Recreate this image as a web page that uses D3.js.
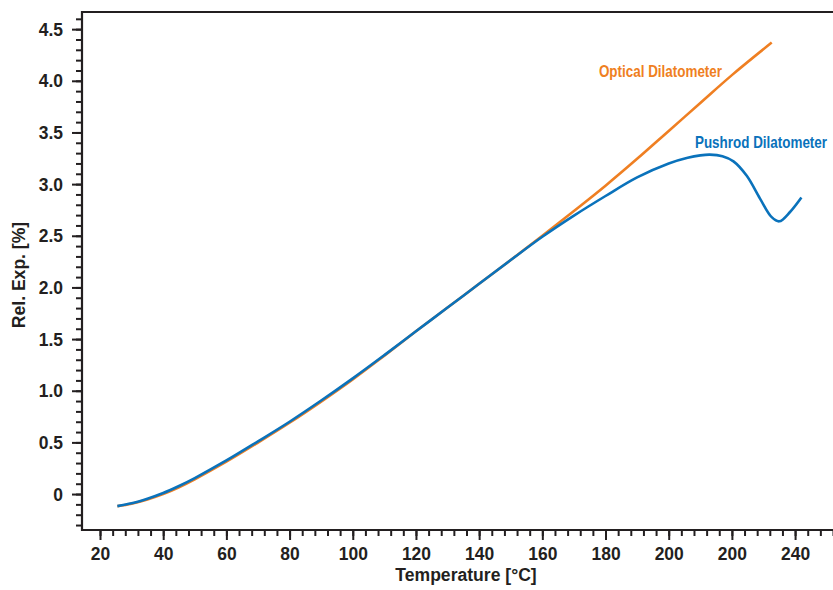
<!DOCTYPE html>
<html><head><meta charset="utf-8">
<script src="https://cdn.jsdelivr.net/npm/d3@7"></script>
<style>
body{margin:0;background:#fff;}
svg text{font-family:"Liberation Sans",Arial,Helvetica,sans-serif;font-weight:bold;}
</style></head><body>
<svg id="c" width="833" height="590"></svg>
<script>
// ---- data ----
const xMajorTicks = [20, 40, 60, 80, 100, 120, 140, 160, 180, 200, 220, 240];
const xTickLabels = ["20", "40", "60", "80", "100", "120", "140", "160", "180", "200", "200", "240"];
const yMajorTicks = [0, 0.5, 1.0, 1.5, 2.0, 2.5, 3.0, 3.5, 4.0, 4.5];
const yTickLabels = ["0", "0.5", "1.0", "1.5", "2.0", "2.5", "3.0", "3.5", "4.0", "4.5"];

const pushrodT = [25.5, 30, 35, 40, 45, 50, 60, 70, 80, 90, 100, 110, 120, 130, 140, 150, 160, 170, 180, 190, 200, 206, 210, 213, 217, 220.5, 224.7, 228.9, 232.6, 235, 238.4, 242];
const pushrodV = [-0.117, -0.09, -0.045, 0.01, 0.078, 0.155, 0.325, 0.51, 0.70, 0.905, 1.12, 1.345, 1.575, 1.805, 2.035, 2.265, 2.49, 2.695, 2.885, 3.065, 3.20, 3.255, 3.278, 3.285, 3.27, 3.22, 3.08, 2.86, 2.68, 2.64, 2.73, 2.87];

const opticalT = [25.5, 30, 35, 40, 45, 50, 60, 70, 80, 90, 100, 110, 120, 130, 140, 150, 160, 170, 180, 190, 200, 210, 220, 232.6];
const opticalV = [-0.117, -0.093, -0.052, 0.0, 0.066, 0.143, 0.313, 0.498, 0.69, 0.895, 1.11, 1.34, 1.575, 1.805, 2.035, 2.265, 2.50, 2.74, 2.985, 3.245, 3.515, 3.785, 4.055, 4.37];

const seriesNames = ["Optical Dilatometer", "Pushrod Dilatometer"];
const xTitle = "Temperature [°C]";
const yTitle = "Rel. Exp. [%]";

// ---- layout ----
const mLeft = 82, mRight = 833, mTop = 12, mBottom = 530;
const colors = {optical: "#ef7f22", pushrod: "#0a72bb"};
const axisColor = "#231f20";
const tickScaleX = 0.92, titleScaleX = 0.95, seriesScaleX = 0.84;

const x = d3.scaleLinear().domain([14.3, 252.0]).range([mLeft, mRight]);
const y = d3.scaleLinear().domain([-0.348, 4.666]).range([mBottom, mTop]);

const svg = d3.select("#c");

const xMinor = d3.range(20, 253, 4);
const yMinor = d3.range(-3, 47).map(d => d / 10);

// minor ticks
svg.append("g").attr("transform", `translate(0,${mBottom})`)
  .call(d3.axisBottom(x).tickValues(xMinor).tickSize(6).tickFormat(""))
  .call(g => g.select(".domain").remove());
svg.append("g").attr("transform", `translate(${mLeft},0)`)
  .call(d3.axisLeft(y).tickValues(yMinor).tickSize(6).tickFormat(""))
  .call(g => g.select(".domain").remove());

// major ticks with labels
svg.append("g").attr("transform", `translate(0,${mBottom})`)
  .call(d3.axisBottom(x).tickValues(xMajorTicks).tickSize(10).tickPadding(7)
    .tickFormat((d, i) => xTickLabels[i]))
  .call(g => g.select(".domain").remove())
  .call(g => g.selectAll("text").attr("font-size", 19).attr("fill", axisColor)
    .attr("transform", `scale(${tickScaleX},1)`));
svg.append("g").attr("transform", `translate(${mLeft},0)`)
  .call(d3.axisLeft(y).tickValues(yMajorTicks).tickSize(10).tickPadding(9)
    .tickFormat((d, i) => yTickLabels[i]))
  .call(g => g.select(".domain").remove())
  .call(g => g.selectAll("text").attr("font-size", 19).attr("fill", axisColor)
    .attr("x", -19 / tickScaleX).attr("transform", `scale(${tickScaleX},1)`));

svg.selectAll(".tick line").attr("stroke", axisColor).attr("stroke-width", 2);

// frame
svg.append("path")
  .attr("d", `M${mRight},${mTop}H${mLeft}V${mBottom}H${mRight}`)
  .attr("fill", "none").attr("stroke", axisColor).attr("stroke-width", 2.2);

// lines
const line = d3.line().x(d => x(d[0])).y(d => y(d[1])).curve(d3.curveCatmullRom.alpha(0.5));
const optical = opticalT.map((t, i) => [t, opticalV[i]]);
const pushrod = pushrodT.map((t, i) => [t, pushrodV[i]]);

svg.append("path").datum(optical).attr("d", line)
  .attr("fill", "none").attr("stroke", colors.optical).attr("stroke-width", 2.6);
svg.append("path").datum(pushrod).attr("d", line)
  .attr("fill", "none").attr("stroke", colors.pushrod).attr("stroke-width", 2.6);

// series labels (anchored in data units)
function scaledText(px, py, s, size, fill, str, anchor, rotate) {
  svg.append("text")
    .attr("transform", `translate(${px},${py})${rotate ? " rotate(-90)" : ""} scale(${s},1)`)
    .attr("text-anchor", anchor || "start")
    .attr("font-size", size).attr("fill", fill).text(str);
}
scaledText(x(177.9), y(4.04), seriesScaleX, 16, colors.optical, seriesNames[0]);
scaledText(x(208.3), y(3.35), seriesScaleX, 16, colors.pushrod, seriesNames[1]);

// axis titles
scaledText(466, 581, titleScaleX, 18.5, axisColor, xTitle, "middle");
scaledText(25, 275, titleScaleX, 18.5, axisColor, yTitle, "middle", true);
</script>
</body></html>
